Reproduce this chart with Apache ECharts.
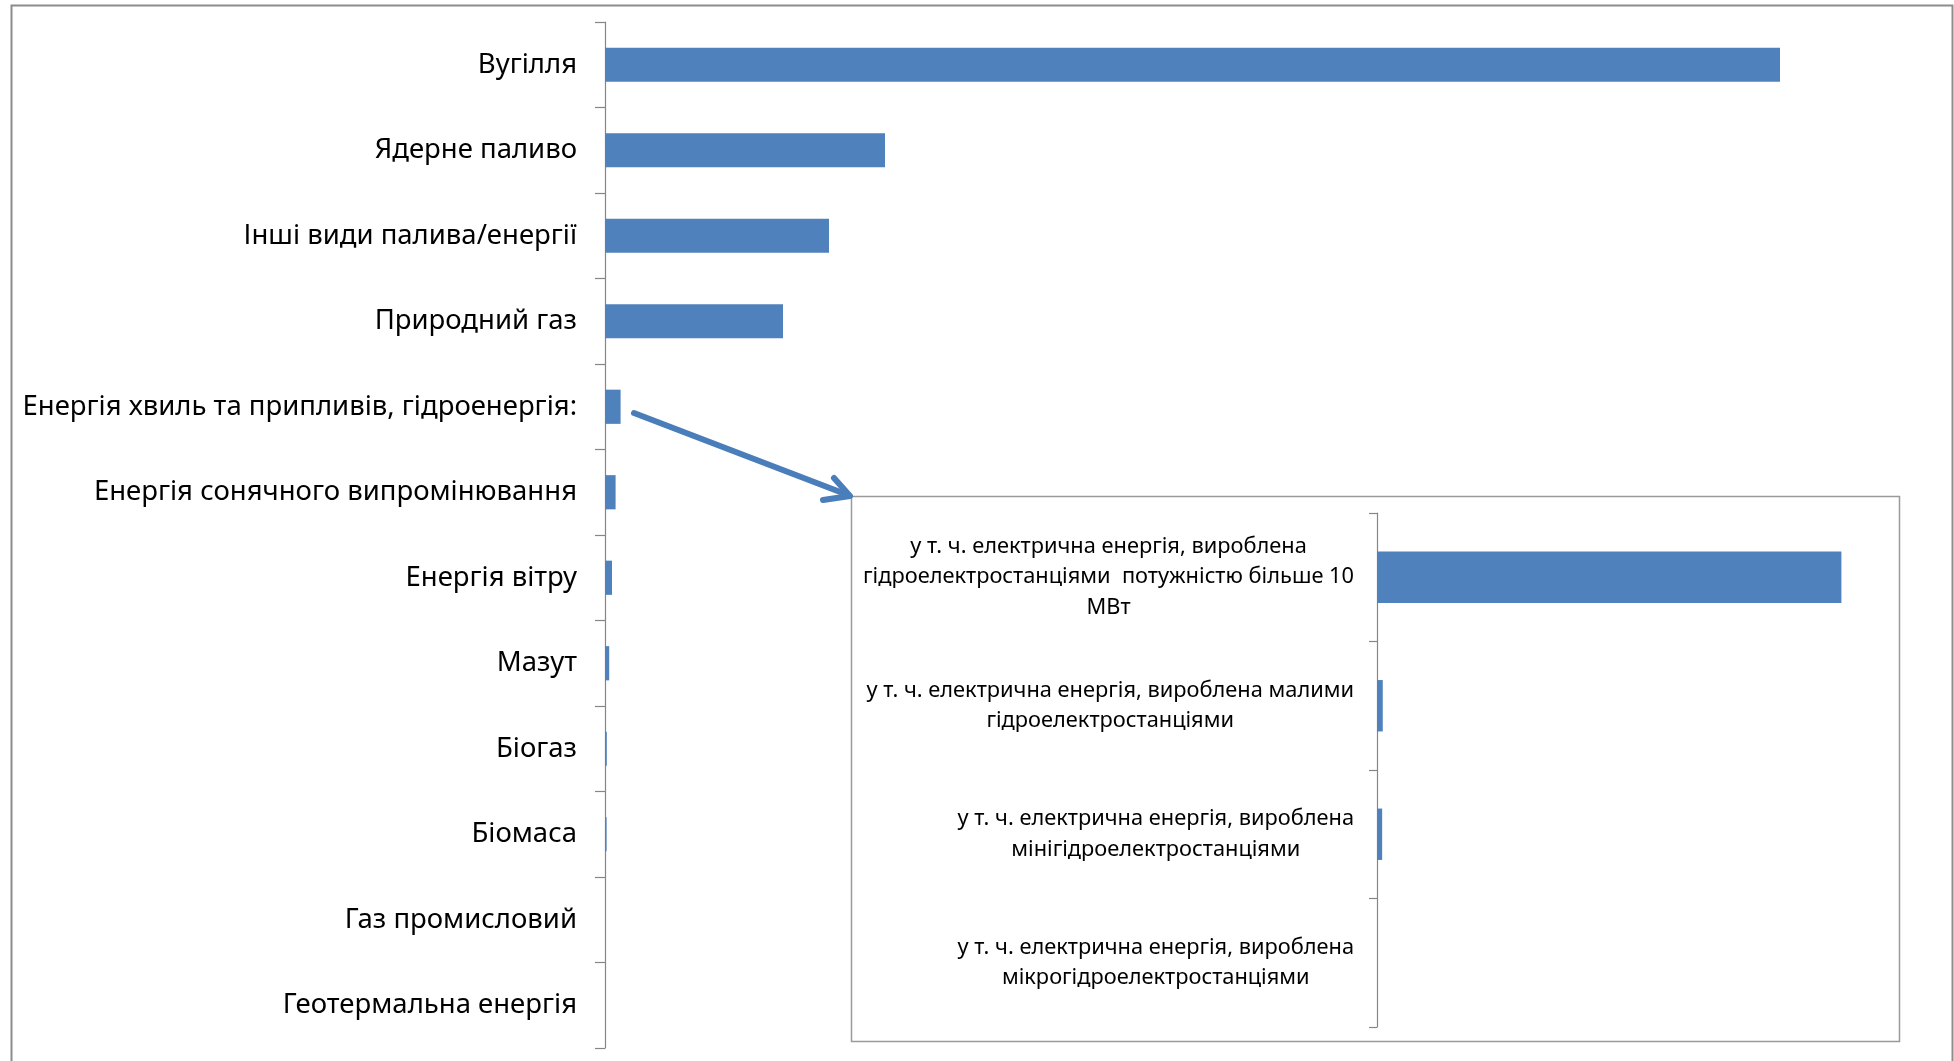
<!DOCTYPE html>
<html>
<head>
<meta charset="utf-8">
<script src="https://cdn.jsdelivr.net/npm/echarts@6/dist/echarts.min.js"></script>
<style>
html,body{margin:0;padding:0;background:#fff;}
#c{width:1954px;height:1061px;}
</style>
</head>
<body>
<div id="c"></div>
<script>
// Main chart data
var mainCategories = [
  "Вугілля",
  "Ядерне паливо",
  "Інші види палива/енергії",
  "Природний газ",
  "Енергія хвиль та припливів, гідроенергія:",
  "Енергія сонячного випромінювання",
  "Енергія вітру",
  "Мазут",
  "Біогаз",
  "Біомаса",
  "Газ промисловий",
  "Геотермальна енергія"
];
var mainValues = [1175, 280, 224, 178, 15.6, 10.6, 7, 4.2, 1.8, 1.6, 0, 0];

// Inset (hydro breakdown) data
var insetCategories = [
  "у т. ч. електрична енергія, вироблена\nгідроелектростанціями  потужністю більше 10\nМВт",
  "у т. ч. електрична енергія, вироблена малими\nгідроелектростанціями",
  "у т. ч. електрична енергія, вироблена\nмінігідроелектростанціями",
  "у т. ч. електрична енергія, вироблена\nмікрогідроелектростанціями"
];
var insetValues = [15.3, 0.19, 0.17, 0];

var FONT = "'Noto Sans', 'DejaVu Sans', sans-serif";
var BAR = '#4f81bd';
var AXIS = '#868686';

var chart = echarts.init(document.getElementById('c'), null, {renderer: 'canvas'});

function centerLines(v) {
  return v.split('\n').map(function (s) { return '{c|' + s + '}'; }).join('\n');
}

var option = {
  backgroundColor: '#ffffff',
  animation: false,
  grid: [
    {left: 605, top: 22, width: 1300, height: 1026},
    {left: 1377, top: 513, width: 516, height: 514}
  ],
  xAxis: [
    {gridIndex: 0, type: 'value', min: 0, max: 1300, show: false},
    {gridIndex: 1, type: 'value', min: 0, max: 17, show: false}
  ],
  yAxis: [
    {
      gridIndex: 0, type: 'category', inverse: true, data: mainCategories,
      axisLine: {show: true, lineStyle: {color: AXIS, width: 1.2}},
      axisTick: {show: true, length: 10, lineStyle: {color: AXIS, width: 1.2}},
      axisLabel: {color: '#000', fontFamily: FONT, fontSize: 27.5, margin: 28}
    },
    {
      gridIndex: 1, type: 'category', inverse: true, data: insetCategories,
      axisLine: {show: true, lineStyle: {color: AXIS, width: 1.2}},
      axisTick: {show: true, length: 8, lineStyle: {color: AXIS, width: 1.2}},
      axisLabel: {
        margin: 23,
        formatter: centerLines,
        rich: {c: {color: '#000', fontFamily: FONT, fontSize: 21.8, lineHeight: 30.5, align: 'center'}}
      }
    }
  ],
  series: [
    {
      type: 'bar', xAxisIndex: 0, yAxisIndex: 0, data: mainValues,
      barWidth: '40%', itemStyle: {color: BAR}, silent: true
    },
    {
      type: 'bar', xAxisIndex: 1, yAxisIndex: 1, data: insetValues,
      barWidth: '40%', itemStyle: {color: BAR}, silent: true
    }
  ],
  graphic: [
    // outer frame
    {type: 'polyline', z: 100, shape: {points: [[11.5, 1061], [11.5, 5.5], [1952.5, 5.5], [1952.5, 1061]]},
      style: {stroke: '#8c8c8c', lineWidth: 2, fill: null}},
    // inset box
    {type: 'rect', z: -1, shape: {x: 851.5, y: 496.5, width: 1048, height: 545},
      style: {stroke: '#9a9a9a', lineWidth: 1.5, fill: '#ffffff'}},
    // arrow
    {type: 'line', z: 100, shape: {x1: 634, y1: 413, x2: 848, y2: 495},
      style: {stroke: '#4a7ebb', lineWidth: 6, lineCap: 'round'}},
    {type: 'polyline', z: 100, shape: {points: [[834, 478], [850, 496], [823, 500]]},
      style: {stroke: '#4a7ebb', lineWidth: 6, lineCap: 'round', lineJoin: 'round', fill: null}}
  ]
};
chart.setOption(option);
</script>
</body>
</html>
